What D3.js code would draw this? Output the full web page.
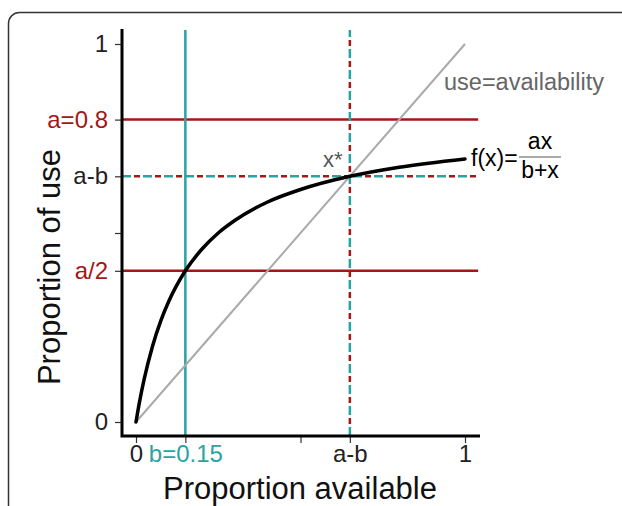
<!DOCTYPE html>
<html>
<head>
<meta charset="utf-8">
<script src="https://cdn.jsdelivr.net/npm/d3@7"></script>
<style>
  html, body { margin: 0; padding: 0; background: #fff; overflow: hidden; }
  svg { display: block; }
  svg text { font-family: "Liberation Sans", Arial, Helvetica, sans-serif; }
</style>
</head>
<body>
<div class="chart"></div>
<script>
// values
const curveX = [0, 0.01, 0.025, 0.05, 0.075, 0.1, 0.15, 0.2, 0.25, 0.3, 0.4, 0.5, 0.65, 0.8, 1.0]
const curveY = [0, 0.05, 0.114, 0.2, 0.267, 0.32, 0.4, 0.457, 0.5, 0.533, 0.582, 0.615, 0.65, 0.674, 0.696]
const diagX = [0, 1]
const diagY = [0, 1]

const yTicks = [0, 0.4, 0.5, 0.65, 0.8, 1]
const yTickLabels = ['0', 'a/2', '', 'a-b', 'a=0.8', '1']
const xTicks = [0, 0.15, 0.5, 0.65, 1]
const xTickLabels = ['0', 'b=0.15', '', 'a-b', '1']

const aLevel = 0.8
const halfA = 0.4
const bLevel = 0.15
const xStar = 0.65

const RED = '#a31717'
const TEAL = '#2aa3a3'

const width = 622, height = 506

const svg = d3.select('.chart')
    .append('svg')
    .attr('width', width)
    .attr('height', height)

// rounded frame, cut off at right and bottom
svg.append('rect')
    .attr('x', 8.5).attr('y', 12.5)
    .attr('width', 800).attr('height', 700)
    .attr('rx', 11)
    .style('fill', 'none')
    .style('stroke', '#333')
    .style('stroke-width', 1.5)

const x = d3.scaleLinear().domain([0, 1]).range([136, 465])
const y = d3.scaleLinear().domain([0, 1]).range([422, 44])

// axis extents a bit past the data range (R style)
const xMin = x.invert(122), xMax = x.invert(480)
const yMin = y.invert(436), yMax = y.invert(29)

const colorFor = (lab) => lab.startsWith('a=') || lab === 'a/2' ? RED : (lab.startsWith('b=') ? TEAL : '#222')

// horizontal reference lines
const hline = (v, color) => svg.append('line')
    .attr('x1', x(xMin)).attr('x2', x(1.04))
    .attr('y1', y(v)).attr('y2', y(v))
    .style('stroke', color).style('stroke-width', 2.5)

hline(aLevel, RED)
hline(halfA, RED)

// teal vertical at b
svg.append('line')
    .attr('x1', x(bLevel)).attr('x2', x(bLevel))
    .attr('y1', y(yMin)).attr('y2', 30)
    .style('stroke', TEAL).style('stroke-width', 2.5)

// two-colour dashed lines through x*
function dashed(x1, y1, x2, y2) {
    [[TEAL, '9,12', 0], [RED, '6,15', 12]].forEach(([c, dash, off]) => {
        svg.append('line')
            .attr('x1', x1).attr('y1', y1).attr('x2', x2).attr('y2', y2)
            .style('stroke', c).style('stroke-width', 2.5)
            .style('stroke-dasharray', dash)
            .style('stroke-dashoffset', -off)
    })
}
dashed(x(xMin), y(xStar), x(1.04), y(xStar))
dashed(x(xStar), y(yMin), x(xStar), 30)

// use = availability
const line = d3.line().x(d => x(d[0])).y(d => y(d[1]))
svg.append('path')
    .attr('d', line(d3.zip(diagX, diagY)))
    .style('fill', 'none').style('stroke', '#aaa').style('stroke-width', 2)

// f(x) curve
svg.append('path')
    .attr('d', line.curve(d3.curveMonotoneX)(d3.zip(curveX, curveY)))
    .style('fill', 'none').style('stroke', '#000').style('stroke-width', 3.5)
    .style('stroke-linecap', 'round')

// axes
const xAxis = d3.axisBottom(x).tickValues(xTicks).tickSize(7).tickSizeOuter(0)
    .tickFormat((d, i) => xTickLabels[i])
const gx = svg.append('g').attr('transform', `translate(0, ${y(yMin)})`).call(xAxis)
gx.select('.domain').remove()
gx.selectAll('.tick line').style('stroke', '#333').style('stroke-width', 1.2)
gx.selectAll('.tick text')
    .attr('y', 9)
    .style('font-size', '24px')
    .style('fill', (d, i) => colorFor(xTickLabels[i]))

const yAxis = d3.axisLeft(y).tickValues(yTicks).tickSize(7).tickSizeOuter(0)
    .tickFormat((d, i) => yTickLabels[i])
const gy = svg.append('g').attr('transform', `translate(${x(xMin)}, 0)`).call(yAxis)
gy.select('.domain').remove()
gy.selectAll('.tick line').style('stroke', '#333').style('stroke-width', 1.2)
gy.selectAll('.tick text')
    .attr('x', -14)
    .style('font-size', '24px')
    .style('fill', (d, i) => colorFor(yTickLabels[i]))

// L-shaped axis lines
svg.append('path')
    .attr('d', `M${x(xMin)},${y(yMax)}V${y(yMin)}H${x(xMax)}`)
    .style('fill', 'none').style('stroke', '#000').style('stroke-width', 3)

// axis titles
svg.append('text')
    .attr('x', 300).attr('y', 499)
    .attr('text-anchor', 'middle')
    .style('font-size', '31px').style('fill', '#111')
    .text('Proportion available')

svg.append('text')
    .attr('transform', `translate(60, ${y(0.41)}) rotate(-90)`)
    .attr('text-anchor', 'middle')
    .style('font-size', '31px').style('fill', '#111')
    .text('Proportion of use')

// annotations
svg.append('text')
    .attr('x', 444).attr('y', 90)
    .style('font-size', '23.5px').style('fill', '#666')
    .text('use=availability')

svg.append('text')
    .attr('x', 323).attr('y', 167)
    .style('font-size', '22px').style('fill', '#555')
    .text('x*')

svg.append('text')
    .attr('x', 471).attr('y', 166)
    .style('font-size', '23px').style('fill', '#000')
    .text('f(x)=')
svg.append('text')
    .attr('x', 540).attr('y', 149)
    .attr('text-anchor', 'middle')
    .style('font-size', '23px').style('fill', '#000')
    .text('ax')
svg.append('line')
    .attr('x1', 519).attr('x2', 561).attr('y1', 157).attr('y2', 157)
    .style('stroke', '#555').style('stroke-width', 1)
svg.append('text')
    .attr('x', 540).attr('y', 178)
    .attr('text-anchor', 'middle')
    .style('font-size', '23px').style('fill', '#000')
    .text('b+x')
</script>
</body>
</html>
